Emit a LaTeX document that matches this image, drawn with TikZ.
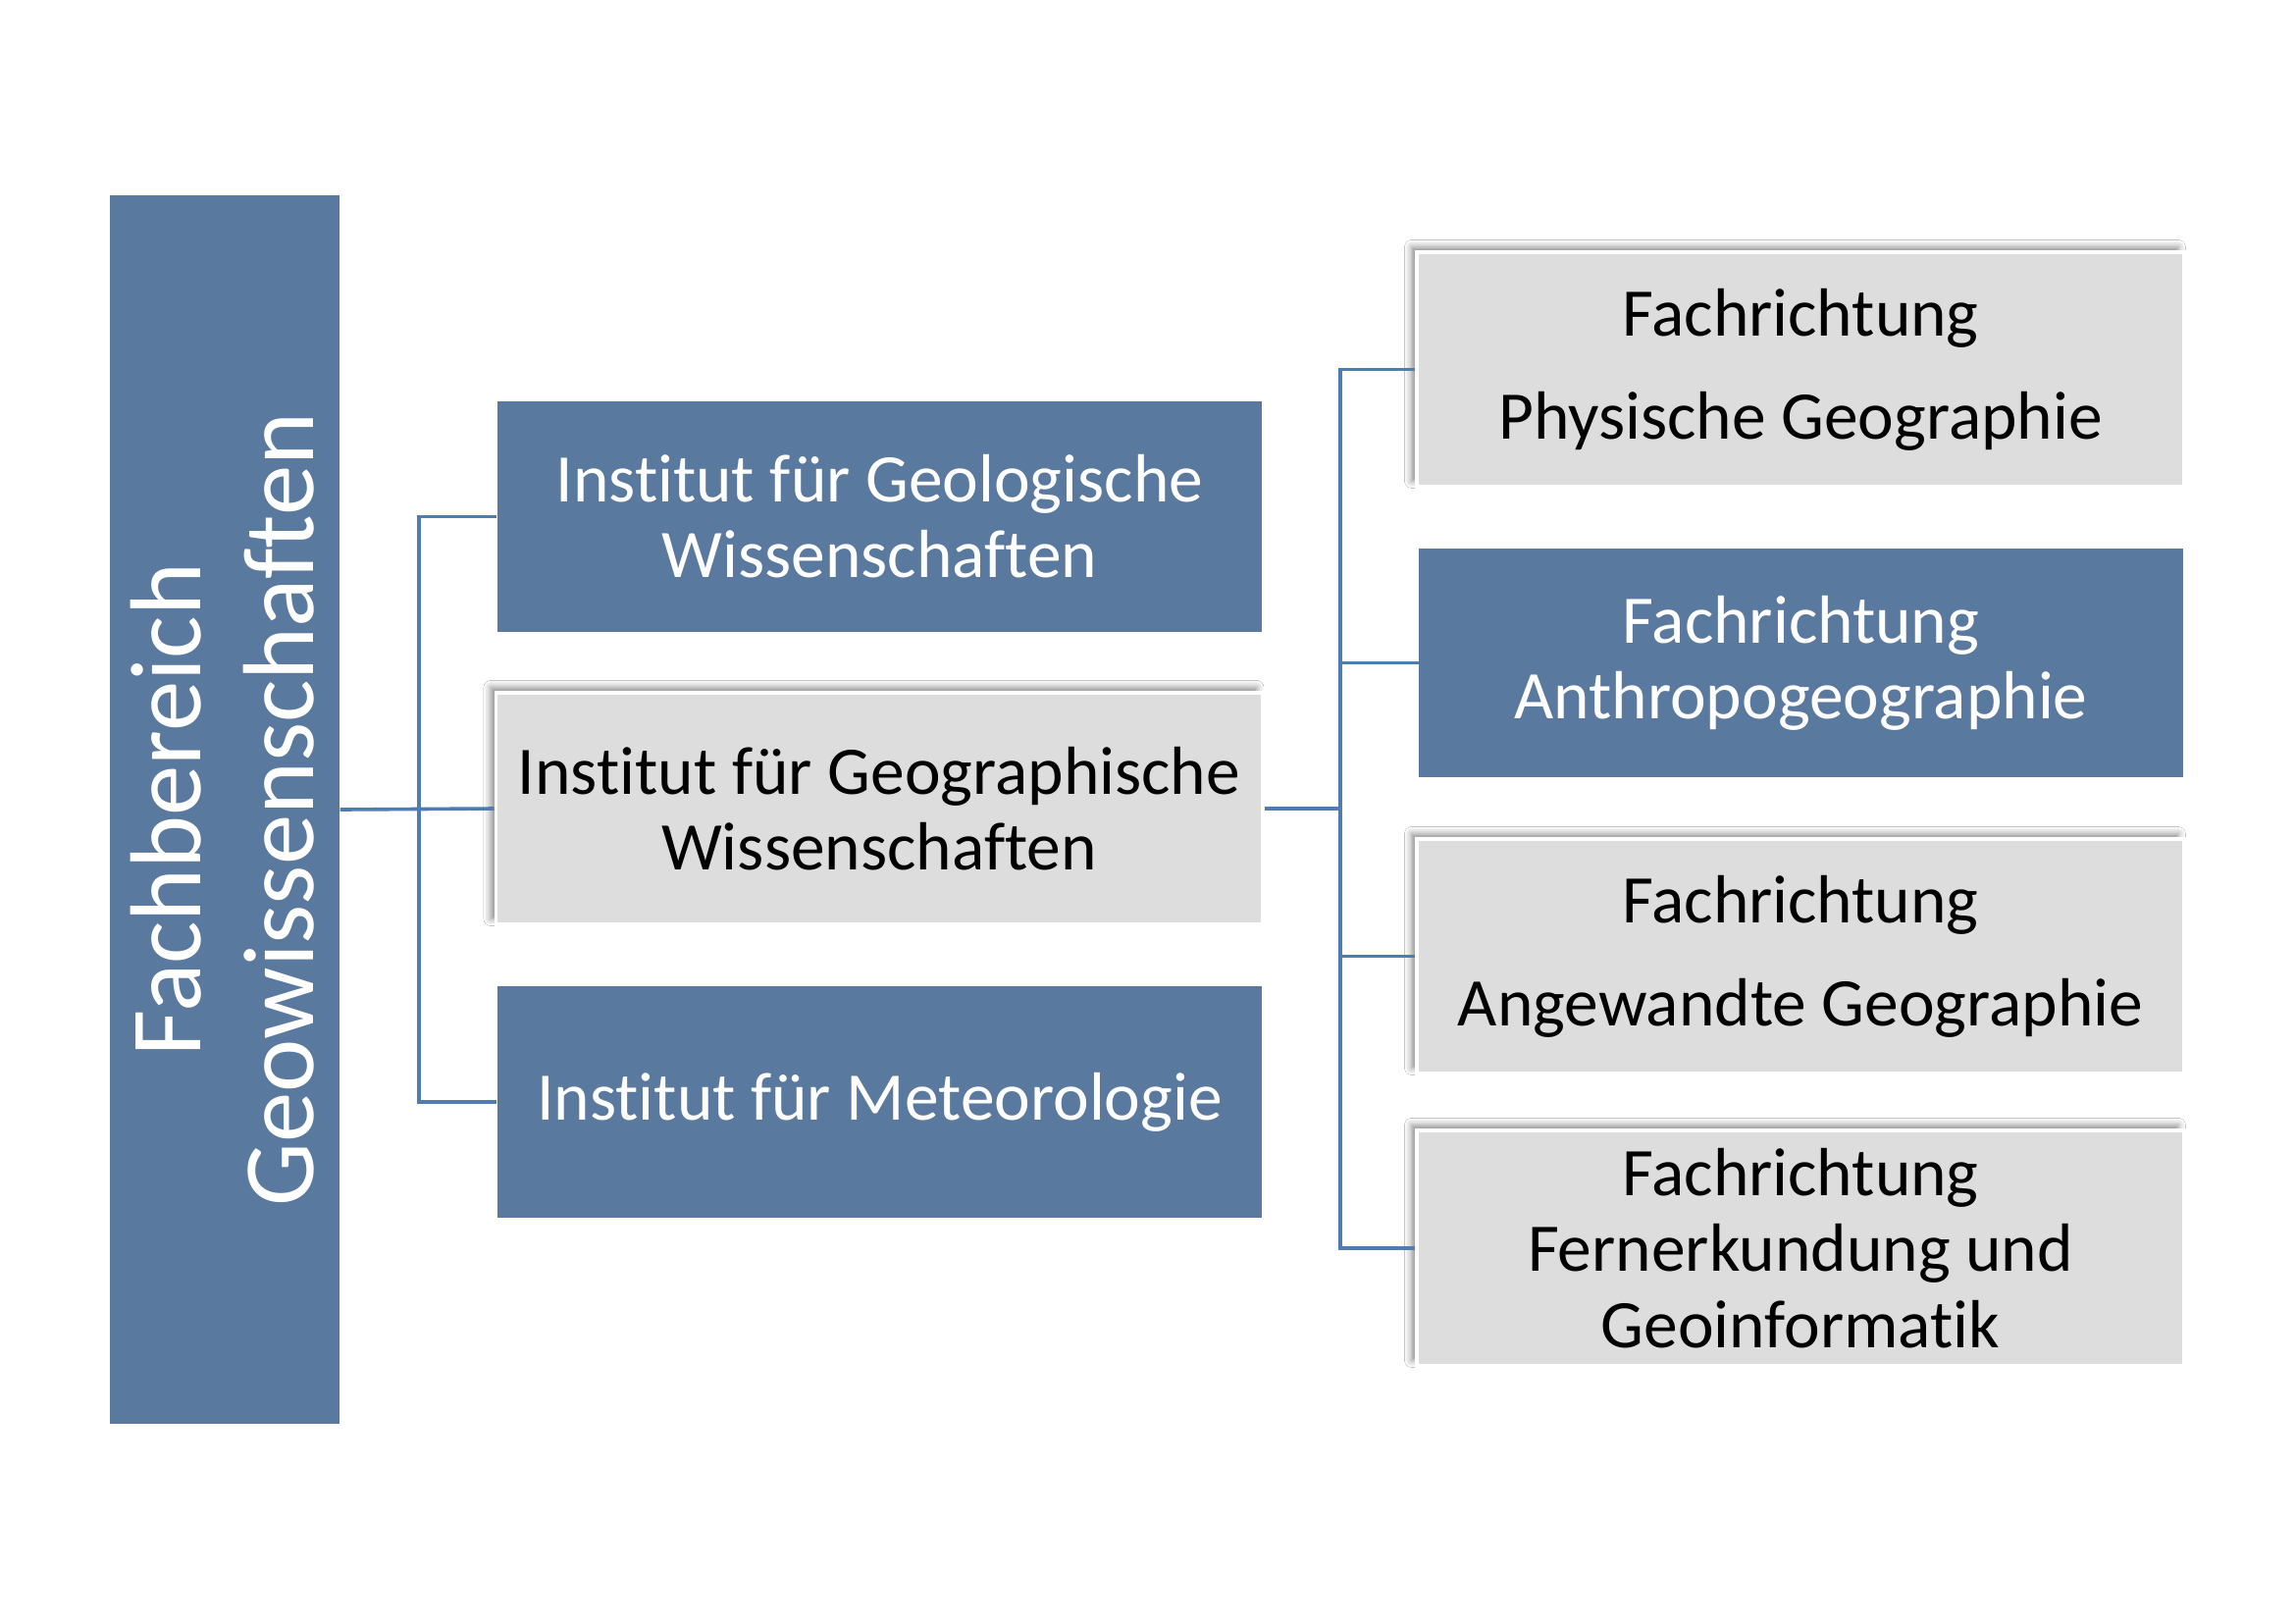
\documentclass[tikz,border=0pt]{standalone}
\usepackage{fontspec}
\setmainfont{Carlito}[Ligatures={NoCommon}]
\usetikzlibrary{shadows.blur}
\definecolor{boxblue}{HTML}{5A799E}
\definecolor{linkblue}{HTML}{4F7DB3}
\definecolor{boxgray}{HTML}{DDDDDD}
\begin{document}
\begin{tikzpicture}[x=0.36pt,y=-0.36pt,
  boxfont/.style={font=\fontsize{25}{27.8}\selectfont},
  bluebox/.style={fill=boxblue, text=white, inner sep=0pt, align=center, boxfont},
  graybox/.style={fill=boxgray, draw=white, line width=1.4pt, text=black, inner sep=0pt, align=center, boxfont,
    blur shadow={shadow xshift=-2pt, shadow yshift=2pt, shadow blur radius=2.5pt, shadow opacity=45}},
  link/.style={draw=linkblue, line width=1.3pt}]
\useasboundingbox[fill=white] (0,0) rectangle (2339,1654);

% left box
\node[bluebox, minimum width=84.24pt, minimum height=450.72pt] (L) at (229,825) {};
\node[text=white, rotate=90, align=center, font=\fontsize{37}{41.5}\selectfont] (Ltext) at (227,825)
  {Fachbereich\\Geowissenschaften};

% middle boxes
\node[bluebox, minimum width=280.44pt, minimum height=84.6pt] (M1) at (896.5,526.5)
  {Institut für Geologische\\Wissenschaften};
\node[graybox, minimum width=281.2pt, minimum height=85pt] (M2) at (896,824)
  {Institut für Geographische\\Wissenschaften};
\node[bluebox, minimum width=280.44pt, minimum height=84.96pt] (M3) at (896.5,1123)
  {Institut für Meteorologie};

% right boxes
\node[graybox, minimum width=281.5pt, minimum height=86pt] (R1) at (1835,376.5)
  {Fachrichtung\\[10pt]Physische Geographie};
\node[bluebox, minimum width=280.4pt, minimum height=83.9pt] (R2) at (1835.5,675.5)
  {Fachrichtung\\Anthropogeographie};
\node[graybox, minimum width=281.5pt, minimum height=86pt] (R3) at (1835,974.5)
  {Fachrichtung\\[10pt]Angewandte Geographie};
\node[graybox, minimum width=281.5pt, minimum height=86.4pt] (R4) at (1835,1272)
  {Fachrichtung\\Fernerkundung und\\Geoinformatik};

% connectors
\coordinate (tl) at (427,0);
\coordinate (tr) at (1366,0);
\draw[link] (L.east) -- (M2.west);
\draw[link] (M1.west) -- (M1.west -| tl) -- (M3.west -| tl) -- (M3.west);
\draw[link] (M2.east) -- (M2.east -| tr);
\draw[link] (R1.west) -- (R1.west -| tr) -- (R4.west -| tr) -- (R4.west);
\draw[link] (R2.west -| tr) -- (R2.west);
\draw[link] (R3.west -| tr) -- (R3.west);
\end{tikzpicture}
\end{document}
